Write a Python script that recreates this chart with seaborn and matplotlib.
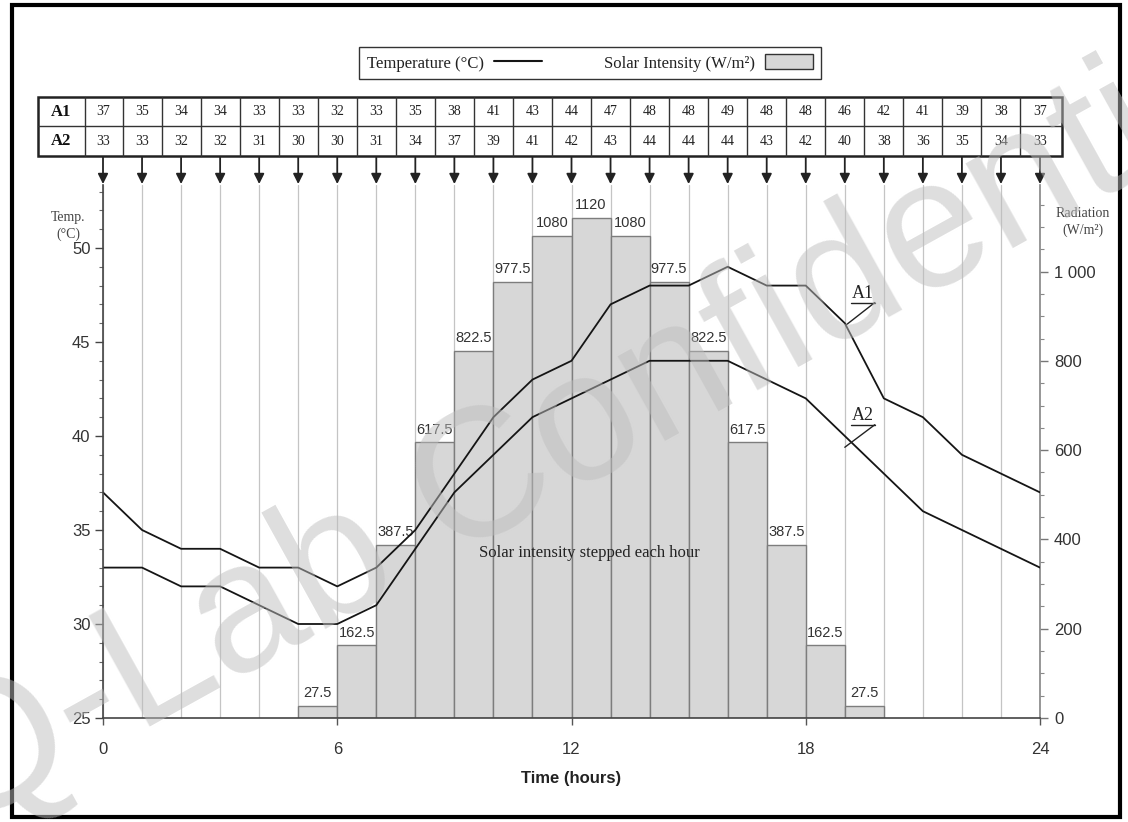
import matplotlib
matplotlib.use("Agg")
import numpy as np
import pandas as pd
import seaborn as sns
import matplotlib.pyplot as plt
from matplotlib.patches import Rectangle, Patch
from matplotlib.lines import Line2D

# ---------------- data ----------------
hours = list(range(25))
a1_temp = [37, 35, 34, 34, 33, 33, 32, 33, 35, 38, 41, 43, 44, 47, 48, 48, 49, 48, 48, 46, 42, 41, 39, 38, 37]
a2_temp = [33, 33, 32, 32, 31, 30, 30, 31, 34, 37, 39, 41, 42, 43, 44, 44, 44, 43, 42, 40, 38, 36, 35, 34, 33]
bar_start_hours = list(range(5, 20))
solar_intensity = [27.5, 162.5, 387.5, 617.5, 822.5, 977.5, 1080, 1120, 1080,
                   977.5, 822.5, 617.5, 387.5, 162.5, 27.5]
xtick_hours = [0, 6, 12, 18, 24]
temp_ticks = [25, 30, 35, 40, 45, 50]
rad_ticks = [0, 200, 400, 600, 800, 1000]
rad_tick_labels = ["0", "200", "400", "600", "800", "1 000"]
series_names = ["A1", "A2"]

# ---------------- style ----------------
sns.set_theme(style="ticks")
plt.rcParams["font.family"] = ["Liberation Sans", "DejaVu Sans"]
SERIF = ["Liberation Serif", "DejaVu Serif"]
SANS = ["Liberation Sans", "DejaVu Sans"]
TXT = "#333333"

W_PX, H_PX = 1128, 822
fig = plt.figure(figsize=(W_PX / 100, H_PX / 100), dpi=100)

ax_left_px, ax_right_px, ax_top_px, ax_bot_px = 103, 1040, 185, 718
L = ax_left_px / W_PX
Wd = (ax_right_px - ax_left_px) / W_PX
B = 1 - ax_bot_px / H_PX
Ht = (ax_bot_px - ax_top_px) / H_PX

# radiation (bars) axis
ax_r = fig.add_axes([L, B, Wd, Ht])
df_bars = pd.DataFrame({"center": np.array(bar_start_hours) + 0.5, "rad": solar_intensity})
sns.barplot(data=df_bars, x="center", y="rad", native_scale=True, width=1.0,
            color="#d7d7d7", saturation=1, edgecolor="#7d7d7d", linewidth=1.0,
            errorbar=None, ax=ax_r)
ax_r.bar_label(ax_r.containers[0], labels=[f"{v:g}" for v in solar_intensity],
               padding=4, fontsize=10.5, color=TXT, family=SANS)

ax_r.set_xlim(0, 24)
ax_r.set_ylim(0, 1194)

# temperature axis (lines)
ax_t = ax_r.twinx()
df_lines = pd.DataFrame({"hour": hours, "A1": a1_temp, "A2": a2_temp})
for name in series_names:
    sns.lineplot(data=df_lines, x="hour", y=name, color="#151515", linewidth=1.3, ax=ax_t)
ax_t.set_ylim(25, 53.35)
ax_t.set_xlim(0, 24)
ax_t.set_ylabel("")

# axis placement
ax_t.yaxis.tick_left()
ax_t.yaxis.set_label_position("left")
ax_r.yaxis.tick_right()
ax_r.yaxis.set_label_position("right")

# ticks
ax_r.set_xticks(xtick_hours)
ax_r.set_xticklabels([str(h) for h in xtick_hours])
ax_r.set_xticks(hours, minor=True)
ax_r.tick_params(axis="x", which="major", length=5, width=1, color="#555555", pad=12,
                 labelsize=12, labelcolor=TXT)
ax_r.tick_params(axis="x", which="minor", length=0)
ax_r.grid(which="minor", axis="x", color="#c4c4c4", linewidth=0.9)
ax_r.grid(which="major", axis="x", color="#c4c4c4", linewidth=0.9)
ax_r.grid(axis="y", visible=False)
ax_r.set_axisbelow(True)

ax_r.set_yticks(rad_ticks)
ax_r.set_yticklabels(rad_tick_labels)
ax_r.set_yticks(np.arange(0, 1151, 50), minor=True)
ax_r.tick_params(axis="y", which="major", right=True, left=False, length=6, width=1,
                 color="#777777", pad=4, labelsize=12, labelcolor=TXT)
ax_r.tick_params(axis="y", which="minor", right=True, left=False, length=3, width=0.8,
                 color="#888888")

ax_t.set_yticks(temp_ticks)
ax_t.set_yticks(np.arange(25, 53.1, 1), minor=True)
ax_t.tick_params(axis="y", which="major", left=True, right=False, length=6, width=1,
                 color="#444444", pad=3, labelsize=12, labelcolor=TXT)
ax_t.tick_params(axis="y", which="minor", left=True, right=False, length=3, width=0.8,
                 color="#666666")

ax_r.set_xlabel("Time (hours)", fontsize=12, fontweight="bold", color="#222222", labelpad=10)
ax_r.set_ylabel("")

for s in ["top", "left"]:
    ax_r.spines[s].set_visible(False)
ax_r.spines["right"].set_color("#8a8a8a")
ax_r.spines["bottom"].set_color("#444444")
ax_r.spines["bottom"].set_linewidth(1.2)
for s in ["top", "right", "bottom"]:
    ax_t.spines[s].set_visible(False)
ax_t.spines["left"].set_color("#444444")
ax_t.spines["left"].set_linewidth(1.2)

# annotations
ax_t.text(12.47, 33.8, "Solar intensity stepped each hour", ha="center", va="center",
          fontsize=12, family=SERIF, color="#222222")
for name, (tx, ty, lx, ly) in zip(series_names, [(19.47, 47.6, 19.03, 45.9),
                                                 (19.47, 41.1, 19.0, 39.4)]):
    ax_t.text(tx, ty, name, ha="center", va="center", fontsize=13, family=SERIF, color="#222222")
    uy = ty - 0.5
    ax_t.plot([tx - 0.3, tx + 0.3], [uy, uy], color="#222222", lw=1.0)
    ax_t.plot([tx + 0.3, lx], [uy, ly], color="#222222", lw=1.0)

# ---------------- table ----------------
tab_top_px, tab_bot_px = 97, 156
ax_tab = fig.add_axes([L, 1 - tab_bot_px / H_PX, Wd, (tab_bot_px - tab_top_px) / H_PX])
ax_tab.set_xlim(0, 24)
ax_tab.set_ylim(0, 2)
ax_tab.axis("off")
x_left, x_lab, x_right = -1.665, -0.46, 24.56
ax_tab.add_patch(Rectangle((x_left, 0), x_right - x_left, 2, fill=False, lw=1.8,
                           ec="#222222", clip_on=False))
ax_tab.plot([x_left, x_right], [1, 1], color="#333333", lw=1.0, clip_on=False)
for xv in [x_lab] + [h + 0.5 for h in hours[:-1]]:
    ax_tab.plot([xv, xv], [0, 2], color="#333333", lw=1.0, clip_on=False)
for row_y, name, vals in [(1.5, "A1", a1_temp), (0.5, "A2", a2_temp)]:
    ax_tab.text((x_left + x_lab) / 2, row_y, name, ha="center", va="center", fontsize=12,
                fontweight="bold", family=SERIF, color="#111111", clip_on=False)
    for h, v in zip(hours, vals):
        ax_tab.text(h, row_y, str(v), ha="center", va="center", fontsize=10,
                    family=SERIF, color="#222222", clip_on=False)
for h in hours:
    ax_tab.annotate("", xy=(h, -0.95), xytext=(h, -0.05),
                    arrowprops=dict(arrowstyle="-|>,head_width=0.25,head_length=0.5",
                                    color="#222222", lw=1.3, shrinkA=0, shrinkB=0),
                    annotation_clip=False)

# ---------------- legend ----------------
handles = [Line2D([], [], color="#151515", lw=1.5),
           Patch(facecolor="#d7d7d7", edgecolor="#333333", linewidth=1.0)]
leg = fig.legend(handles, ["Temperature (°C)", "Solar Intensity (W/m²)"], loc="center",
                 bbox_to_anchor=(590 / W_PX, 1 - 63 / H_PX), ncol=2, markerfirst=False,
                 frameon=True, fancybox=False, edgecolor="#333333", framealpha=1,
                 prop={"family": SERIF, "size": 12}, columnspacing=3.7, handlelength=2.9,
                 handleheight=1.0, borderpad=0.45, handletextpad=0.6)
leg.get_frame().set_linewidth(1.0)
for t in leg.get_texts():
    t.set_color("#222222")

# axis titles
fig.text(68 / W_PX, 1 - 226 / H_PX, "Temp.\n(°C)", ha="center", va="center", fontsize=10,
         family=SERIF, color="#444444", linespacing=1.3)
fig.text(1083 / W_PX, 1 - 222 / H_PX, "Radiation\n(W/m²)", ha="center", va="center",
         fontsize=10, family=SERIF, color="#444444", linespacing=1.3)

# watermark
fig.text(605 / W_PX, 1 - 420 / H_PX, "Q-Lab Confidential", rotation=29, fontsize=132,
         color="#bdbdbd", alpha=0.5, ha="center", va="center", family=SANS, zorder=100)

# outer frame
fig.patches.append(Rectangle((12 / W_PX, 5 / H_PX), 1108 / W_PX, 812 / H_PX, fill=False,
                             lw=3, ec="black", transform=fig.transFigure, figure=fig))

fig.savefig("out.png", dpi=100)
